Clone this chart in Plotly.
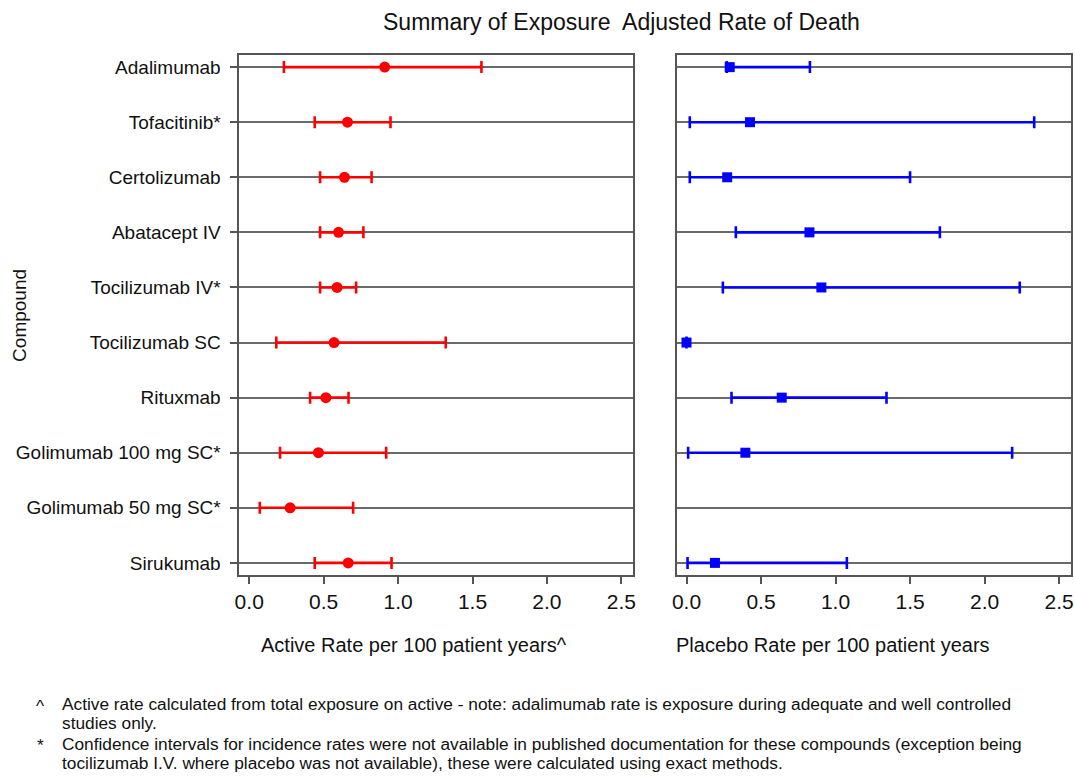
import plotly.graph_objects as go

compounds = ["Adalimumab", "Tofacitinib*", "Certolizumab", "Abatacept IV", "Tocilizumab IV*",
             "Tocilizumab SC", "Rituxmab", "Golimumab 100 mg SC*", "Golimumab 50 mg SC*", "Sirukumab"]

active_rate = [0.91, 0.66, 0.64, 0.60, 0.59, 0.57, 0.515, 0.465, 0.275, 0.665]
active_low = [0.233, 0.44, 0.476, 0.476, 0.476, 0.182, 0.409, 0.207, 0.071, 0.44]
active_high = [1.56, 0.949, 0.822, 0.767, 0.718, 1.32, 0.667, 0.92, 0.698, 0.956]

placebo_rate = [0.29, 0.426, 0.273, 0.825, 0.905, 0.0, 0.639, 0.395, None, 0.191]
placebo_low = [0.27, 0.022, 0.022, 0.331, 0.244, 0.0, 0.302, 0.011, None, 0.007]
placebo_high = [0.828, 2.333, 1.50, 1.70, 2.236, 0.0, 1.342, 2.185, None, 1.076]

x_ticks = [0.0, 0.5, 1.0, 1.5, 2.0, 2.5]

FONT = "Arial, Liberation Sans, sans-serif"
W, H = 1075, 777

rows = list(range(len(compounds)))


def err(vals, lo, hi):
    plus, minus = [], []
    for v, l, h in zip(vals, lo, hi):
        if v is None:
            plus.append(None)
            minus.append(None)
        else:
            plus.append(h - v)
            minus.append(v - l)
    return plus, minus


ap, am = err(active_rate, active_low, active_high)
pp, pm = err(placebo_rate, placebo_low, placebo_high)

fig = go.Figure()
fig.add_trace(go.Scatter(
    x=active_rate, y=rows, mode="markers", xaxis="x", yaxis="y",
    marker=dict(color="#ff0000", size=11, symbol="circle"),
    error_x=dict(type="data", array=ap, arrayminus=am, color="#ff0000", thickness=2.6, width=6),
    showlegend=False))
fig.add_trace(go.Scatter(
    x=placebo_rate, y=rows, mode="markers", xaxis="x2", yaxis="y2",
    marker=dict(color="#0000ff", size=10, symbol="square"),
    error_x=dict(type="data", array=pp, arrayminus=pm, color="#0000ff", thickness=2.6, width=6),
    showlegend=False))

line_col = "#555555"
grid_col = "#6a6a6a"
ydom = [1 - 575 / H, 1 - 55 / H]
yrange = [9.22, -0.22]

common_x = dict(showline=True, mirror=True, linecolor=line_col, linewidth=1.5,
                showgrid=False, zeroline=False, ticks="outside", ticklen=7,
                tickcolor=line_col, tickwidth=1.5,
                tickvals=x_ticks, ticktext=[f"{v:.1f}" for v in x_ticks],
                tickfont=dict(family=FONT, size=21, color="#111111"))

fig.update_layout(
    width=W, height=H,
    margin=dict(l=0, r=0, t=0, b=0),
    paper_bgcolor="white", plot_bgcolor="white",
    xaxis=dict(domain=[236 / W, 633 / W], range=[-0.067, 2.58], anchor="y", **common_x),
    xaxis2=dict(domain=[677 / W, 1074 / W], range=[-0.064, 2.58], anchor="y2", **common_x),
    yaxis=dict(domain=ydom, range=yrange, anchor="x", showline=True, mirror=True,
               linecolor=line_col, linewidth=1.5, showgrid=True, gridcolor=grid_col,
               gridwidth=2, zeroline=False, ticks="outside", ticklen=7, tickcolor=line_col,
               tickwidth=1.5, tickvals=rows, ticktext=compounds, ticklabelstandoff=6,
               tickfont=dict(family=FONT, size=19, color="#111111")),
    yaxis2=dict(domain=ydom, range=yrange, anchor="x2", showline=True, mirror=True,
                linecolor=line_col, linewidth=1.5, showgrid=True, gridcolor=grid_col,
                gridwidth=2, zeroline=False, ticks="", tickvals=rows,
                showticklabels=False),
)


def px_ann(text, x, y, size, xanchor="center", yanchor="middle", angle=0):
    fig.add_annotation(text=text, x=x / W, y=1 - y / H, xref="paper", yref="paper",
                       showarrow=False, xanchor=xanchor, yanchor=yanchor, textangle=angle,
                       font=dict(family=FONT, size=size, color="#111111"))


px_ann("Summary of Exposure\u00a0 Adjusted Rate of Death", 621, 22, 23)
px_ann("Active Rate per 100 patient years^", 412, 645, 20)
px_ann("Placebo Rate per 100 patient years", 834, 645, 20)
px_ann("Compound", 14, 315, 19, angle=-90)

FN = 17.3
px_ann("^", 29, 706, FN, xanchor="left")
px_ann("Active rate calculated from total exposure on active - note: adalimumab rate is exposure during adequate and well controlled",
       55, 704, FN, xanchor="left")
px_ann("studies only.", 55, 723, FN, xanchor="left")
px_ann("*", 30, 745, FN, xanchor="left")
px_ann("Confidence intervals for incidence rates were not available in published documentation for these compounds (exception being",
       55, 744, FN, xanchor="left")
px_ann("tocilizumab I.V. where placebo was not available), these were calculated using exact methods.",
       55, 763, FN, xanchor="left")

fig.write_html("out.html", config={"displayModeBar": False},
               post_script="document.body.style.margin='0';document.body.style.overflow='hidden';")
